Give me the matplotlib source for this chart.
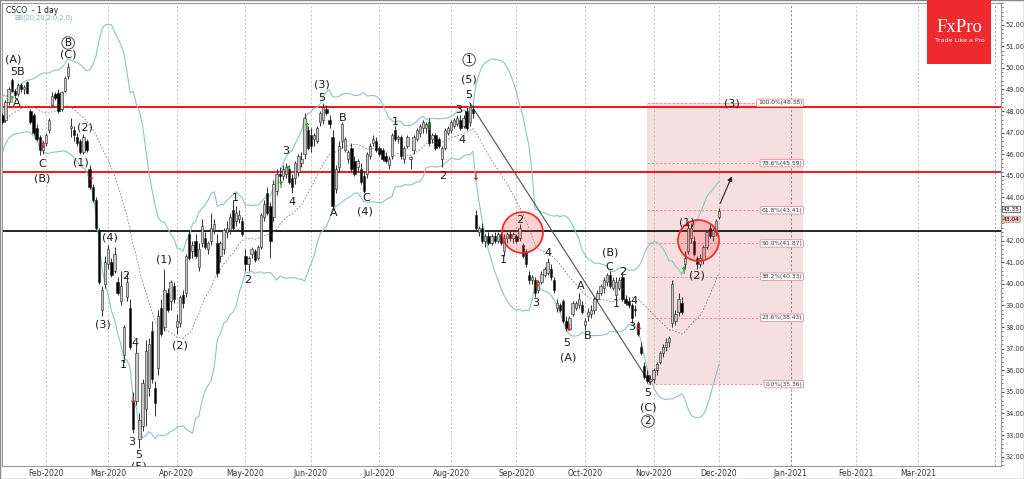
import numpy as np
import pandas as pd
import matplotlib.pyplot as plt
from matplotlib.patches import Rectangle
from matplotlib.ticker import MultipleLocator
from matplotlib.transforms import blended_transform_factory

# daily candles, business days from 13 Jan 2020 to 1 Dec 2020
opens = [
    47.4, 47.8, 47.6, 48.4, 49.45, 48.95, 48.8, 49.2, 49.0, 49.35,
    48.0, 47.8, 47.2, 46.8, 46.2, 46.5, 47.1, 48.3, 48.8, 48.85,
    48.1, 48.95, 49.6, 47.2, 47.1, 46.8, 46.6, 46.1, 46.6, 45.3,
    44.5, 43.9, 42.5, 38.8, 40.0, 40.9, 41.0, 40.6, 40.1, 39.2,
    36.7, 39.4, 38.9, 34.6, 34.6, 32.8, 33.4, 34.2, 35.2, 37.8,
    35.2, 36.1, 38.9, 38.0, 39.6, 39.2, 39.9, 38.0, 38.2, 39.5,
    39.6, 42.3, 41.5, 42.0, 40.8, 41.9, 42.1, 41.6, 42.0, 42.5,
    41.9, 41.3, 41.6, 42.4, 42.5, 43.4, 42.9, 43.0, 42.9, 41.3,
    40.9, 41.4, 41.5, 41.2, 41.7, 43.1, 44.2, 43.6, 43.1, 44.3,
    45.1, 45.0, 45.1, 45.3, 44.9, 44.9, 45.2, 45.6, 46.0, 47.1,
    46.9, 46.7, 46.6, 47.5, 47.6, 48.1, 47.6, 46.8, 44.4, 45.4,
    46.6, 46.2, 45.8, 46.3, 45.7, 45.4, 45.3, 45.0, 45.1, 45.9,
    46.5, 46.6, 46.3, 46.2, 45.9, 45.5, 45.9, 47.1, 46.7, 46.8,
    45.8, 46.4, 45.8, 46.2, 46.7, 47.0, 47.2, 47.2, 47.5, 46.7,
    46.9, 46.7, 45.8, 46.3, 47.0, 47.1, 47.3, 47.4, 47.6, 47.3,
    48.0, 47.5, 48.1, 43.2, 42.4, 42.6, 42.0, 42.2, 41.9, 42.2,
    42.0, 42.3, 41.5, 42.1, 42.3, 42.1, 42.2, 42.1, 41.8, 41.5,
    40.4, 40.2, 40.2, 39.7, 40.1, 40.4, 40.5, 40.7, 40.2, 38.9,
    39.0, 39.2, 38.3, 37.9, 38.6, 38.9, 39.0, 39.0, 38.1, 38.5,
    38.6, 38.8, 39.3, 39.6, 39.8, 40.1, 40.4, 39.8, 39.5, 39.8,
    40.3, 39.3, 39.2, 39.0, 38.85, 38.2, 37.1, 36.2, 35.8, 35.5,
    35.6, 36.0, 36.4, 36.8, 37.1, 37.3, 38.2, 38.3, 38.7, 39.1,
    40.9, 41.5, 42.1, 42.0, 41.2, 40.9, 41.1, 41.7, 42.6, 42.2,
    42.4, 43.1]
highs = [
    47.9, 47.9, 48.5, 49.1, 49.55, 49.0, 49.3, 49.3, 49.2, 49.4,
    48.1, 47.9, 47.4, 46.9, 46.6, 47.0, 47.7, 48.9, 48.9, 49.0,
    48.95, 49.6, 50.2, 47.7, 47.3, 47.0, 46.7, 46.95, 46.7, 45.5,
    44.6, 44.0, 42.6, 39.9, 41.3, 41.8, 41.2, 41.7, 40.3, 40.6,
    38.1, 40.5, 39.3, 35.0, 37.2, 34.0, 35.6, 37.4, 37.5, 38.3,
    35.5, 38.8, 39.3, 40.7, 39.8, 40.2, 40.1, 38.6, 39.5, 39.7,
    41.4, 42.5, 42.0, 42.3, 41.9, 43.0, 42.4, 42.0, 43.3, 43.0,
    42.3, 42.0, 42.6, 42.9, 43.3, 43.9, 43.6, 43.4, 43.1, 41.6,
    41.3, 41.7, 41.6, 41.8, 43.3, 43.9, 44.5, 43.8, 44.8, 45.3,
    45.4, 45.5, 45.6, 45.5, 45.1, 45.7, 46.0, 46.1, 47.9, 47.3,
    47.2, 47.0, 47.3, 48.0, 48.35, 48.3, 47.8, 47.1, 45.5, 46.6,
    47.5, 46.8, 46.2, 46.5, 45.9, 45.8, 45.6, 45.2, 46.1, 46.5,
    46.9, 46.8, 46.4, 46.3, 46.1, 45.9, 47.0, 47.3, 46.9, 46.9,
    46.4, 46.9, 45.9, 46.9, 47.2, 47.4, 47.6, 47.5, 47.7, 47.0,
    47.0, 46.8, 46.4, 47.2, 47.3, 47.6, 47.7, 47.8, 47.8, 47.8,
    48.2, 48.38, 48.3, 43.4, 42.7, 42.8, 42.3, 42.4, 42.3, 42.4,
    42.4, 42.4, 42.3, 42.4, 42.5, 42.4, 42.3, 42.75, 41.9, 41.6,
    40.6, 40.4, 40.3, 40.2, 40.6, 40.8, 41.2, 40.9, 40.3, 39.3,
    39.1, 39.3, 38.5, 38.5, 39.2, 39.2, 39.6, 39.2, 38.4, 38.9,
    39.0, 39.4, 39.7, 40.0, 40.3, 40.5, 40.6, 40.3, 40.3, 40.3,
    40.55, 39.5, 39.4, 39.1, 39.0, 38.3, 37.3, 36.4, 36.0, 35.8,
    36.1, 36.4, 36.9, 37.2, 37.5, 37.6, 40.2, 38.8, 39.6, 39.4,
    41.5, 42.9, 42.8, 42.2, 41.3, 41.4, 41.8, 42.5, 42.8, 42.6,
    43.0, 43.5]
lows = [
    47.2, 47.4, 47.5, 48.3, 48.9, 48.6, 48.7, 48.9, 48.8, 48.8,
    47.4, 46.9, 46.6, 45.95, 46.0, 46.4, 47.0, 48.2, 48.5, 47.9,
    48.0, 48.9, 49.5, 46.8, 46.6, 46.4, 46.0, 46.0, 46.1, 44.4,
    43.8, 42.5, 40.0, 38.5, 39.8, 40.7, 40.3, 40.5, 39.5, 39.0,
    36.4, 39.2, 37.0, 33.1, 34.4, 32.4, 33.2, 33.4, 34.8, 35.4,
    33.9, 35.8, 37.6, 37.8, 38.7, 38.8, 39.1, 37.7, 38.0, 38.9,
    39.4, 41.1, 41.2, 41.2, 40.6, 41.7, 41.6, 41.4, 41.8, 42.3,
    40.3, 41.0, 41.4, 42.1, 42.3, 42.5, 42.7, 42.8, 42.2, 40.6,
    40.6, 41.2, 41.0, 41.1, 41.6, 42.9, 43.2, 41.2, 42.9, 44.1,
    44.6, 44.8, 44.9, 44.6, 44.2, 44.6, 45.0, 45.4, 45.8, 46.2,
    46.1, 46.4, 46.5, 47.3, 47.4, 47.8, 47.2, 43.4, 44.2, 45.2,
    46.3, 46.1, 45.6, 45.2, 45.0, 45.2, 44.6, 44.2, 44.9, 45.8,
    46.4, 46.1, 45.9, 45.7, 45.6, 45.3, 45.8, 46.6, 46.5, 45.8,
    45.6, 46.3, 45.3, 46.0, 46.6, 46.8, 47.0, 47.0, 46.4, 46.5,
    46.2, 46.3, 45.4, 46.2, 46.9, 47.0, 47.2, 47.3, 47.1, 47.2,
    47.1, 47.3, 47.7, 42.5, 42.2, 41.9, 41.7, 41.8, 41.8, 41.9,
    41.9, 41.8, 41.3, 41.9, 42.0, 41.9, 41.9, 42.0, 41.2, 40.8,
    40.0, 40.0, 39.4, 39.6, 40.0, 40.3, 40.4, 40.2, 39.6, 38.7,
    38.7, 38.2, 37.8, 37.85, 38.5, 38.8, 38.9, 38.6, 37.85, 38.3,
    38.4, 38.6, 39.2, 39.5, 39.6, 39.9, 39.8, 39.7, 39.3, 39.7,
    39.2, 39.0, 38.9, 38.2, 38.5, 37.6, 36.7, 35.6, 35.4, 35.36,
    35.4, 35.8, 36.3, 36.6, 36.9, 37.1, 38.0, 38.1, 38.5, 38.6,
    40.7, 41.4, 41.9, 41.3, 40.7, 40.8, 40.9, 41.6, 42.1, 42.0,
    42.2, 43.0]
closes = [
    47.8, 47.5, 48.4, 49.0, 48.95, 48.75, 49.2, 49.0, 49.1, 48.85,
    47.5, 47.0, 46.7, 46.2, 46.5, 46.9, 47.6, 48.7, 48.6, 48.0,
    48.9, 49.55, 50.05, 47.3, 46.9, 46.5, 46.1, 46.8, 46.2, 44.5,
    43.9, 42.6, 40.1, 39.7, 41.0, 41.6, 40.4, 41.4, 39.6, 39.9,
    38.0, 40.1, 37.1, 33.3, 36.8, 33.7, 35.4, 36.9, 37.2, 35.6,
    34.5, 38.5, 37.7, 39.7, 38.8, 40.1, 39.3, 38.3, 39.4, 39.1,
    41.3, 41.2, 41.8, 41.3, 41.6, 42.7, 41.7, 41.9, 42.6, 42.75,
    40.5, 41.9, 42.5, 42.6, 43.1, 42.6, 43.3, 43.2, 42.3, 40.9,
    41.2, 41.6, 41.1, 41.7, 43.2, 43.7, 43.3, 42.0, 44.6, 45.1,
    45.0, 45.3, 45.4, 44.7, 44.5, 45.6, 45.9, 45.8, 47.7, 46.3,
    46.4, 46.9, 47.2, 47.9, 48.2, 47.9, 47.4, 43.6, 45.3, 46.4,
    47.4, 46.7, 46.1, 45.3, 45.1, 45.7, 44.7, 44.3, 46.0, 46.4,
    46.7, 46.2, 46.0, 45.8, 45.7, 45.8, 46.9, 46.7, 46.8, 45.9,
    46.3, 46.8, 45.85, 46.8, 47.1, 47.3, 47.5, 47.4, 46.5, 46.9,
    46.3, 46.4, 46.3, 47.1, 47.2, 47.5, 47.6, 47.7, 47.2, 47.7,
    47.2, 48.2, 47.9, 42.6, 42.6, 42.0, 42.2, 41.9, 42.2, 42.0,
    42.3, 41.9, 42.1, 42.3, 42.1, 42.3, 42.0, 42.6, 41.3, 40.9,
    40.2, 40.3, 39.6, 40.1, 40.45, 40.7, 41.0, 40.3, 39.7, 39.1,
    38.8, 38.3, 37.95, 38.4, 39.1, 39.1, 39.3, 38.7, 38.3, 38.7,
    38.8, 39.3, 39.6, 39.9, 40.2, 40.4, 39.9, 40.2, 40.1, 40.2,
    39.3, 39.1, 39.0, 38.4, 38.8, 37.7, 36.8, 35.7, 35.5, 35.6,
    36.0, 36.3, 36.8, 37.1, 37.3, 37.5, 40.0, 38.6, 39.3, 38.7,
    41.2, 42.6, 42.6, 41.4, 40.9, 41.2, 41.7, 42.4, 42.2, 42.5,
    42.9, 43.35]
# closes of the 20 sessions before the first candle, only to seed the bands
warmup_closes = [44.9, 45.3, 45.5, 46.0, 46.6, 47.0, 47.3, 47.4, 47.6, 47.9,
                 47.8, 47.96, 47.96, 48.42, 47.63, 47.80, 47.49, 47.52, 47.91, 47.73]

red_levels = [48.18, 45.17]
black_level = 42.45
fib_ratios = [0.0, 0.236, 0.382, 0.5, 0.618, 0.786, 1.0]
bid_price = 43.04

wave_text = ['(A)', '5B', 'A', 'C', '(B)', '(C)', '(2)', '(1)', '(4)', '(3)', '2', '1', '4', '3',
             '5', '(5)', '(1)', '(2)', '1', '2', '3', '4', '(3)', '5', 'B', 'A', 'C', '(4)', '1',
             '2', '3', '4', '(5)', '5', '2', '1', '3', '4', '5', '(A)', 'A', 'B', '(B)', 'C',
             '1', '2', '3', '4', '5', '(C)', '(1)', '(2)', '(3)']
wave_x = [4.4, 5.7, 5.7, 13.7, 13.7, 22.1, 27.5, 26.2, 35.5, 33.3, 40.7, 39.7, 43.6, 42.6,
          44.8, 44.8, 52.9, 58.0, 75.7, 79.8, 92.0, 93.9, 103.6, 103.6, 110.3, 107.4, 117.7,
          117.4, 127.0, 142.4, 147.5, 148.5, 150.8, 150.8, 167.1, 161.7, 172.3, 176.1, 182.2,
          182.5, 186.7, 188.9, 196.0, 195.7, 197.9, 200.2, 203.1, 203.7, 208.2, 208.2, 220.7,
          223.9, 235.2]
wave_y = [50.37, 49.81, 48.37, 45.55, 44.90, 50.60, 47.22, 45.60, 42.13, 38.10, 40.37, 36.25,
          37.26, 32.68, 32.08, 31.55, 41.11, 37.17, 43.98, 40.18, 46.15, 43.79, 49.21, 48.61,
          47.68, 43.28, 43.98, 43.33, 47.50, 45.00, 48.05, 46.66, 49.44, 48.75, 42.96, 41.11,
          39.12, 41.43, 37.26, 36.57, 39.90, 37.59, 41.43, 40.78, 39.07, 40.55, 38.00, 39.21,
          34.95, 34.30, 42.82, 40.41, 48.33]
circled_text = ['B', '1', '2']
circled_x = [22.1, 150.8, 208.2]
circled_y = [51.15, 50.37, 33.65]

up_x = [3.8, 90.1, 92.3, 98.4, 137.6, 219.4]
up_y = [48.51, 44.58, 45.27, 47.26, 47.26, 40.60]
dn_x = [13.7, 29.1, 42.6, 152.7, 172.3, 182.5, 205.0]
dn_y = [46.43, 44.95, 34.62, 44.95, 40.0, 37.96, 38.0]

circle_x = [167.7, 224.4]
circle_y = [42.38, 42.03]

o = np.array(opens)
h = np.array(highs)
l = np.array(lows)
c = np.array(closes)
idx = np.arange(len(c))

# Bollinger bands 20, 2
s = pd.Series(warmup_closes + closes)
mid = s.rolling(20).mean().to_numpy()[len(warmup_closes):]
sd = s.rolling(20).std(ddof=0).to_numpy()[len(warmup_closes):]

full_days = pd.bdate_range('2020-01-13', '2021-03-31')
month_pos = [k for k in range(1, len(full_days)) if full_days[k].month != full_days[k - 1].month]
month_lab = [full_days[k].strftime('%b-%Y') for k in month_pos]

fig = plt.figure(figsize=(10.24, 4.79), dpi=100)
ax = fig.add_axes([2 / 1024, 13 / 479, 999 / 1024, 463 / 479])
ax.set_xlim(0.88, 321.5)
ax.set_ylim(31.57, 53.0)

for p, lab in zip(month_pos, month_lab):
    col = '#707070' if lab == 'Jan-2021' else '#bdbdbd'
    ax.axvline(p, color=col, lw=0.6, ls=(0, (2.5, 2.5)), zorder=1)
ax.axvline(319.5, color='#909090', lw=0.6, ls=(0, (2.5, 2.5)), zorder=1)

# fibonacci box
hi_i = 140 + int(np.argmax(h[140:160]))
lo_i = 200 + int(np.argmin(l[200:220]))
fib_high, fib_low = h[hi_i], l[lo_i]
fib_start, fib_end = lo_i - 1, lo_i + 49
ax.add_patch(Rectangle((fib_start, fib_low), fib_end - fib_start, fib_high - fib_low,
                       facecolor='#f6dfdf', edgecolor='none', zorder=0.5))
for r in fib_ratios:
    lv = fib_low + r * (fib_high - fib_low)
    ax.plot([fib_start, fib_end], [lv, lv], color='#e08a8a', lw=0.6, ls=(0, (3, 2)), zorder=1.5)
    ax.text(fib_end - 0.3, lv, f'{r * 100:.1f}%({lv:.2f})', fontsize=4.3, color='#333333',
            ha='right', va='center', zorder=6,
            bbox=dict(boxstyle='round,pad=0.2', fc='white', ec='#e09090', lw=0.6))

# horizontal levels
for lv in red_levels:
    ax.axhline(lv, color='#ff1010', lw=1.4, zorder=2)
ax.axhline(black_level, color='#000000', lw=1.2, zorder=2)

# bands
ax.plot(idx, mid + 2 * sd, color='#8ec4c4', lw=0.8, zorder=2.5)
ax.plot(idx, mid - 2 * sd, color='#8ec4c4', lw=0.8, zorder=2.5)
ax.plot(idx, mid, color='#808080', lw=0.6, ls=(0, (2, 2)), zorder=2.5)

# trend line from top to bottom of the move
ax.plot([hi_i, lo_i], [fib_high, fib_low], color='#505050', lw=0.8, zorder=2.6)

# candles
up = c >= o
ax.vlines(idx, l, h, color='#303030', lw=0.7, zorder=3)
ax.bar(idx, np.maximum(np.abs(c - o), 0.04), bottom=np.minimum(o, c), width=0.75,
       color=np.where(up, '#c8c8c8', '#000000'), edgecolor='#202020', linewidth=0.4, zorder=4)

# circles
ax.plot(circle_x, circle_y, 'o', ms=29.5, mfc=(1, 0.2, 0.2, 0.22), mec='#ff2020', mew=1.2,
        ls='none', zorder=5)

# projected path
ax.annotate('', xy=(235.5, 45.1), xytext=(len(c) - 1, 43.6),
            arrowprops=dict(arrowstyle='-|>', color='#222222', lw=0.8, mutation_scale=7), zorder=6)

# wave labels
for t, x, y in zip(wave_text, wave_x, wave_y):
    ax.text(x, y, t, fontsize=8, color='#1a1a1a', ha='center', va='center', zorder=7, clip_on=True)
for t, x, y in zip(circled_text, circled_x, circled_y):
    ax.text(x, y, t, fontsize=7.5, color='#1a1a1a', ha='center', va='center', zorder=7,
            bbox=dict(boxstyle='circle,pad=0.12', fc='white', ec='#333333', lw=0.6))
for x, y in zip(up_x, up_y):
    ax.text(x, y, '\u2191', fontsize=7, color='#2c9a2c', fontweight='bold', ha='center', va='center', zorder=7)
for x, y in zip(dn_x, dn_y):
    ax.text(x, y, '\u2193', fontsize=7, color='#d42020', fontweight='bold', ha='center', va='center', zorder=7)

# axes styling; the 43.00 label sits under the price tags, as on the terminal
yt = np.arange(32, 53, 1.0)
ax.yaxis.tick_right()
ax.set_yticks(yt)
ax.set_yticklabels(['' if abs(v - bid_price) < 0.5 else f'{v:.2f}' for v in yt])
ax.yaxis.set_minor_locator(MultipleLocator(0.2))
ax.tick_params(axis='y', which='major', length=2.5, pad=1, labelsize=4.8, color='#555555',
               labelcolor='#333333')
ax.tick_params(axis='y', which='minor', length=1.3, color='#555555')
ax.set_xticks(month_pos)
ax.set_xticklabels(month_lab)
ax.tick_params(axis='x', length=0, pad=2.5, labelsize=5.5, labelcolor='#333333')
for sp in ax.spines.values():
    sp.set_color('#999999')
    sp.set_linewidth(0.8)

ax.text(0.004, 0.993, 'CSCO  - 1 day', transform=ax.transAxes, fontsize=5.5, color='#222222',
        ha='left', va='top')
ax.text(0.012, 0.975, 'BB(20,20,2.0,2.0)', transform=ax.transAxes, fontsize=4.8, color='#7ab3b3',
        ha='left', va='top')

tr = blended_transform_factory(ax.transAxes, ax.transData)
ax.text(1.002, c[-1] + 0.1, f'{c[-1]:.2f}', transform=tr, fontsize=4.3, ha='left', va='center',
        clip_on=False, zorder=8, bbox=dict(boxstyle='round,pad=0.1', fc='white', ec='#333333', lw=0.5))
ax.text(1.002, bid_price - 0.05, f'{bid_price:.2f}', transform=tr, fontsize=4.3, ha='left', va='center',
        clip_on=False, zorder=8, bbox=dict(boxstyle='round,pad=0.1', fc='#f2c2c2', ec='#d08080', lw=0.5))

# logo
fig.patches.append(Rectangle((927 / 1024, 415 / 479), 64 / 1024, 64 / 479, transform=fig.transFigure,
                             facecolor='#ee2a2e', edgecolor='none', zorder=10))
fig.text(959.5 / 1024, 1 - 28 / 479, 'FxPro', fontsize=13.5, family='Liberation Serif', color='white',
         ha='center', va='center', zorder=11)
fig.text(959.5 / 1024, 1 - 41 / 479, 'Trade Like a Pro', fontsize=4.5, color='white',
         ha='center', va='center', zorder=11)
fig.patches.append(Rectangle((0, 0), 1, 1, transform=fig.transFigure, fill=False,
                             edgecolor='#888888', lw=1.0))

fig.savefig('out.png', dpi=100)
